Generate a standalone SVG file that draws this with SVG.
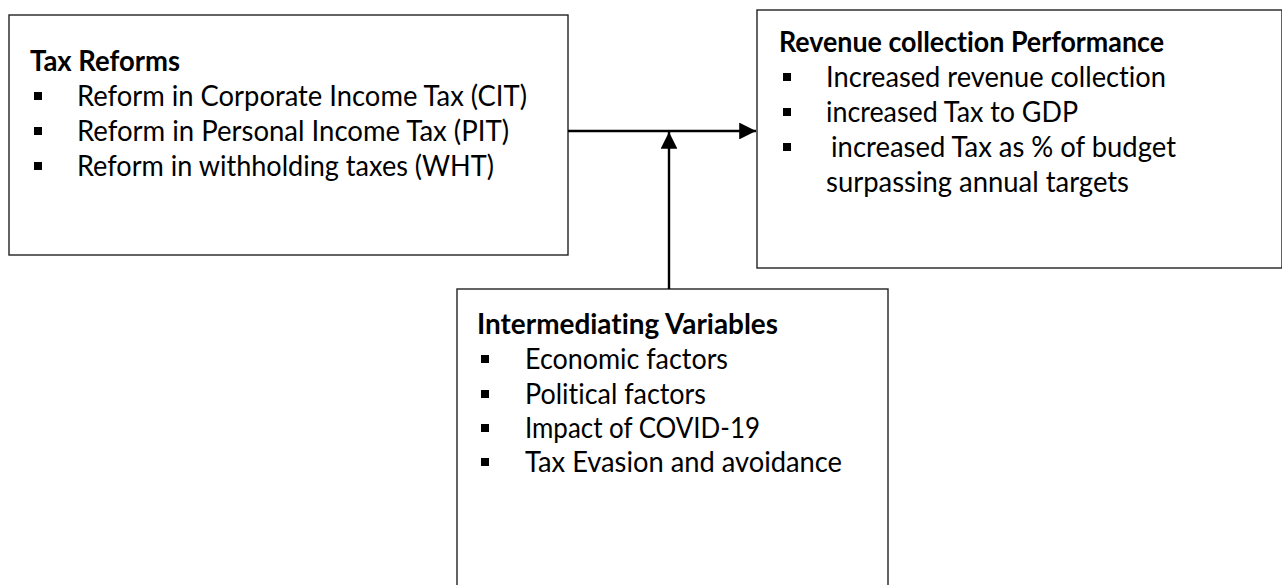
<svg xmlns="http://www.w3.org/2000/svg" width="1282" height="585" viewBox="0 0 1282 585">
<defs>
<style>
.box{fill:#fff;stroke:#222;stroke-width:1.4}
.t{font-family:Lato,"Liberation Sans",sans-serif;font-size:29px;fill:#000;font-variant-ligatures:none;font-feature-settings:"liga" 0,"dlig" 0}
.h{font-weight:bold}
.b{fill:#000}
.c{stroke:#000;stroke-width:2.4;fill:none}
</style>
<marker id="ah" viewBox="0 0 10 10" refX="10" refY="5" markerWidth="7" markerHeight="7" orient="auto" markerUnits="strokeWidth">
<path d="M0,0 L10,5 L0,10 Z" fill="#000"/>
</marker>
</defs>
<rect width="1282" height="585" fill="#fff"/>
<g id="tax-reforms">
<rect class="box" x="9" y="15" width="559" height="240"/>
<text class="t h" x="30" y="71" textLength="150" lengthAdjust="spacingAndGlyphs">Tax Reforms</text>
<rect class="b" x="34" y="92" width="8" height="8"/>
<text class="t" x="77" y="106" textLength="450" lengthAdjust="spacingAndGlyphs">Reform in Corporate Income Tax (CIT)</text>
<rect class="b" x="34" y="127" width="8" height="8"/>
<text class="t" x="77" y="141" textLength="432" lengthAdjust="spacingAndGlyphs">Reform in Personal Income Tax (PIT)</text>
<rect class="b" x="34" y="162" width="8" height="8"/>
<text class="t" x="77" y="176" textLength="417" lengthAdjust="spacingAndGlyphs">Reform in withholding taxes (WHT)</text>
</g>
<g id="revenue">
<rect class="box" x="757" y="10" width="525" height="258"/>
<text class="t h" x="779" y="52" textLength="385" lengthAdjust="spacingAndGlyphs">Revenue collection Performance</text>
<rect class="b" x="783" y="73" width="8" height="8"/>
<text class="t" x="826" y="87" textLength="340" lengthAdjust="spacingAndGlyphs">Increased revenue collection</text>
<rect class="b" x="783" y="108" width="8" height="8"/>
<text class="t" x="826" y="122" textLength="252" lengthAdjust="spacingAndGlyphs">increased Tax to GDP</text>
<rect class="b" x="783" y="143" width="8" height="8"/>
<text class="t" x="831" y="157" textLength="345" lengthAdjust="spacingAndGlyphs">increased Tax as % of budget</text>
<text class="t" x="826" y="192" textLength="303" lengthAdjust="spacingAndGlyphs">surpassing annual targets</text>
</g>
<g id="intermediating">
<rect class="box" x="457" y="289" width="431" height="310"/>
<text class="t h" x="477" y="334" textLength="301" lengthAdjust="spacingAndGlyphs">Intermediating Variables</text>
<rect class="b" x="481" y="355" width="8" height="8"/>
<text class="t" x="525" y="369" textLength="203" lengthAdjust="spacingAndGlyphs">Economic factors</text>
<rect class="b" x="481" y="390" width="8" height="8"/>
<text class="t" x="525" y="404" textLength="181" lengthAdjust="spacingAndGlyphs">Political factors</text>
<rect class="b" x="481" y="424" width="8" height="8"/>
<text class="t" x="525" y="438" textLength="235" lengthAdjust="spacingAndGlyphs">Impact of COVID-19</text>
<rect class="b" x="481" y="458" width="8" height="8"/>
<text class="t" x="525" y="472" textLength="317" lengthAdjust="spacingAndGlyphs">Tax Evasion and avoidance</text>
</g>
<g id="connectors">
<line class="c" x1="568" y1="131" x2="756" y2="131" marker-end="url(#ah)"/>
<line class="c" x1="669" y1="289" x2="669" y2="132" marker-end="url(#ah)"/>
</g>
</svg>
